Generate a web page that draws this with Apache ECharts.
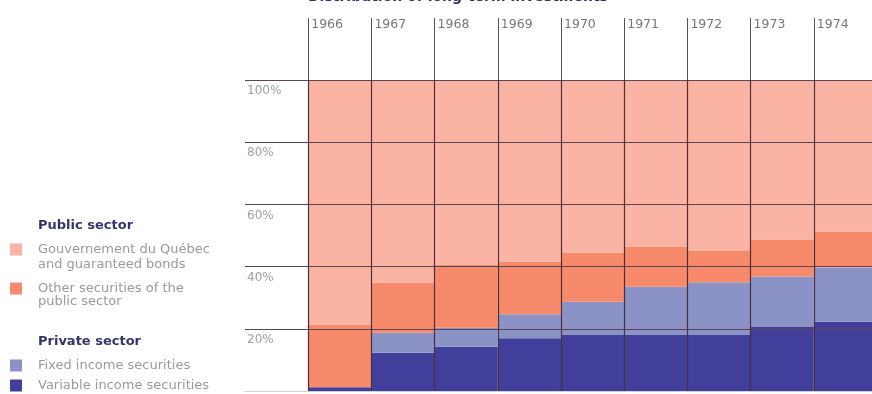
<!DOCTYPE html>
<html>
<head>
<meta charset="utf-8">
<script src="https://cdn.jsdelivr.net/npm/echarts@6/dist/echarts.min.js"></script>
<style>
  html, body { margin: 0; padding: 0; background: #fff; }
  #chart { width: 872px; height: 394px; }
</style>
</head>
<body>
<div id="chart"></div>
<script>
// years (first slot of the category axis is left empty for the label margin)
const years = ['1966', '1967', '1968', '1969', '1970', '1971', '1972', '1973', '1974'];
// share of long-term investments, %
const govQuebec = [78.8, 65.2, 59.4, 58.4, 55.5, 53.5, 55.0, 51.3, 48.7];
const otherPublic = [20.0, 16.1, 20.3, 16.9, 15.8, 13.0, 10.0, 11.9, 11.6];
const fixedIncome = [0.0, 6.4, 6.1, 7.7, 10.7, 15.5, 17.0, 16.2, 17.4];
const variableIncome = [1.2, 12.3, 14.2, 17.0, 18.0, 18.0, 18.0, 20.6, 22.3];
const yTicks = [0, 20, 40, 60, 80, 100];

const names = {
  gov: 'Gouvernement du Québec and guaranteed bonds',
  other: 'Other securities of the public sector',
  fixed: 'Fixed income securities',
  variable: 'Variable income securities'
};
// legend text, split over two lines where the original wraps
const legendLines = {
  gov: ['Gouvernement du Québec', 'and guaranteed bonds'],
  other: ['Other securities of the', 'public sector'],
  fixed: ['Fixed income securities'],
  variable: ['Variable income securities']
};
const colors = {
  gov: '#fbb3a3',
  other: '#f68a6a',
  fixed: '#8b92c6',
  variable: '#423f9c'
};
const lineColor = '#4d2e3c';
const font = 'DejaVu Sans';
const legendGrey = '#9a9a9a';

const chart = echarts.init(document.getElementById('chart'));

const pad = arr => ['-'].concat(arr);

const makeLegend = (key, top) => ({
  data: [names[key]],
  left: 10,
  top: top,
  orient: 'vertical',
  padding: 0,
  icon: 'rect',
  itemWidth: 12,
  itemHeight: 12,
  selectedMode: false,
  formatter: () => legendLines[key][0],
  textStyle: {
    color: legendGrey,
    fontFamily: font,
    fontSize: 13,
    lineHeight: 15,
    padding: [0, 0, 0, 11]
  }
});

// second line of a wrapped legend entry
const secondLine = (key, top) => ({
  text: legendLines[key][1],
  left: 38,
  top: top,
  padding: 0,
  textStyle: { color: legendGrey, fontFamily: font, fontSize: 13, fontWeight: 'normal', lineHeight: 15 }
});

const header = (text, top) => ({
  text: text,
  left: 38,
  top: top,
  padding: 0,
  textStyle: { color: '#34366a', fontFamily: font, fontSize: 13, fontWeight: 'bold' }
});

const barSeries = (key, values) => ({
  name: names[key],
  type: 'bar',
  stack: 'total',
  barWidth: '100%',
  barCategoryGap: 0,
  z: 2,
  itemStyle: { color: colors[key] },
  emphasis: { disabled: true },
  data: pad(values)
});

chart.setOption({
  animation: false,
  title: [
    {
      text: 'Distribution of long-term investments',
      left: 308,
      top: -10,
      padding: 0,
      textStyle: { color: '#2e3060', fontFamily: font, fontSize: 14, fontWeight: 'bold' }
    },
    header('Public sector', 219),
    header('Private sector', 335),
    secondLine('gov', 257),
    secondLine('other', 294)
  ],
  legend: [
    makeLegend('gov', 242),
    makeLegend('other', 281),
    makeLegend('fixed', 358),
    makeLegend('variable', 378)
  ],
  grid: { left: 245, width: 632, top: 80, bottom: 3, outerBoundsMode: 'none' },
  xAxis: [
    {
      type: 'category',
      data: [''].concat(years),
      position: 'bottom',
      z: 5,
      axisLine: { show: true, lineStyle: { color: '#d0d0d0', width: 1 } },
      axisTick: { show: false },
      axisLabel: { show: false },
      splitLine: {
        show: true,
        interval: (i) => i > 0,
        lineStyle: { color: lineColor, width: 1.2 }
      }
    },
    {
      type: 'category',
      data: [''].concat(years, ['']),
      position: 'top',
      boundaryGap: false,
      z: 5,
      axisLine: { show: false },
      axisTick: {
        show: true,
        length: 62,
        interval: (i, v) => v !== '',
        lineStyle: { color: '#555', width: 1 }
      },
      axisLabel: {
        show: true,
        interval: 0,
        align: 'left',
        margin: 49,
        padding: [0, 0, 0, 3],
        color: '#777',
        fontFamily: font,
        fontSize: 12.5
      },
      splitLine: { show: false }
    }
  ],
  yAxis: {
    type: 'value',
    min: 0,
    max: 100,
    interval: 20,
    z: 5,
    axisLine: { show: false },
    axisTick: { show: false },
    axisLabel: {
      inside: true,
      margin: 2,
      verticalAlign: 'top',
      align: 'left',
      padding: [5, 0, 0, 0],
      color: '#a0a0a0',
      fontFamily: font,
      fontSize: 12,
      formatter: v => (yTicks.includes(v) && v > 0 ? v + '%' : '')
    },
    splitLine: { show: true, lineStyle: { color: '#5a4550', width: 1.2 } }
  },
  series: [
    barSeries('variable', variableIncome),
    barSeries('fixed', fixedIncome),
    barSeries('other', otherPublic),
    barSeries('gov', govQuebec)
  ]
});
</script>
</body>
</html>
